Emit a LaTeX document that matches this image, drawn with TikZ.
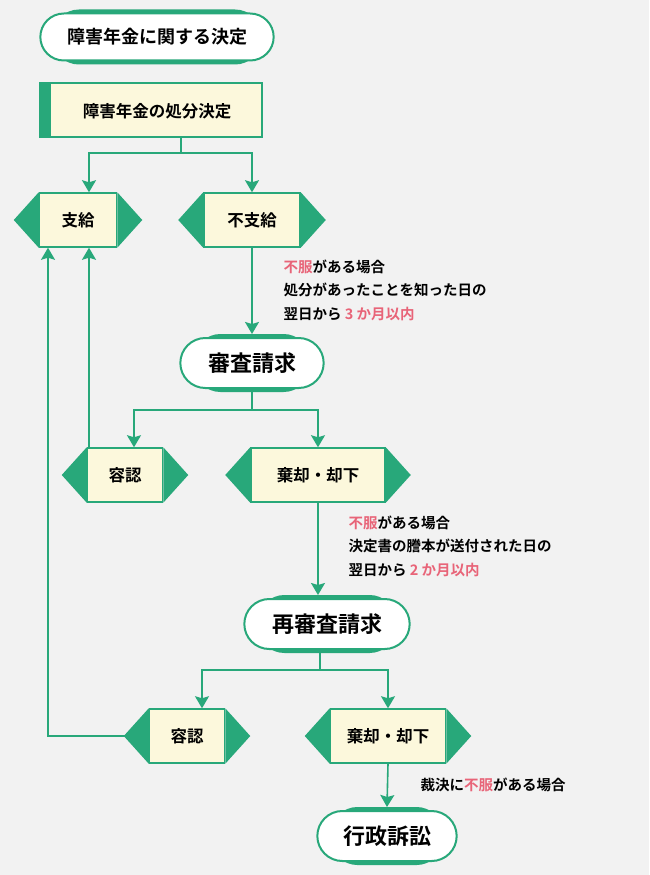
\documentclass[tikz,border=0pt]{standalone}
\usepackage{fontspec}
\setmainfont{Noto Sans CJK JP}[BoldFont={* Bold}]
\usetikzlibrary{arrows.meta,shapes.misc,backgrounds}
\definecolor{gr}{RGB}{40,168,122}
\definecolor{cream}{RGB}{252,248,220}
\definecolor{bg}{RGB}{242,242,242}
\definecolor{pk}{RGB}{232,100,120}
\tikzset{
  term/.style={rounded rectangle, fill=white, draw=gr, line width=2pt, font=\bfseries},
  box/.style={rectangle, fill=cream, draw=gr, line width=1.5pt, minimum height=54pt, font=\bfseries\fontsize{16.5}{16.5}\selectfont},
  conn/.style={draw=gr, line width=1.6pt},
  arr/.style={conn, -{Stealth[length=12pt,width=14pt,inset=2pt]}},
  note/.style={align=left, anchor=north west, font=\bfseries\fontsize{14.5}{23.5}\selectfont}
}
\newcommand{\pkword}[1]{\textcolor{pk}{#1}}
\begin{document}
\begin{tikzpicture}[x=1pt,y=-1pt]
  \begin{scope}[on background layer]
    \fill[bg] (0,0) rectangle (649,875);
  \end{scope}
  \useasboundingbox (0,0) rectangle (649,875);

  % terminals
  \node[term, minimum width=240pt, minimum height=47pt, font=\bfseries\fontsize{18}{18}\selectfont] (kettei) at (157,37) {障害年金に関する決定};
  \node[term, minimum width=150pt, minimum height=50pt, font=\bfseries\fontsize{22}{22}\selectfont] (shinsa) at (252,363) {審査請求};
  \node[term, minimum width=172pt, minimum height=50pt, font=\bfseries\fontsize{22}{22}\selectfont] (saishinsa) at (327,624) {再審査請求};
  \node[term, minimum width=146pt, minimum height=50pt, font=\bfseries\fontsize{22}{22}\selectfont] (sosho) at (387,836) {行政訴訟};

  % boxes
  \node[box, minimum width=222pt, text depth=0pt] (shobun) at (151,110) {\hspace*{12pt}障害年金の処分決定};
  \node[box, minimum width=77pt] (shikyu) at (78,220) {支給};
  \node[box, minimum width=96pt] (fushikyu) at (252,220) {不支給};
  \node[box, minimum width=75pt] (yonin) at (125,475) {容認};
  \node[box, minimum width=134pt] (kikyaku) at (318,475) {棄却・却下};
  \node[box, minimum width=75pt] (yonin2) at (187,736) {容認};
  \node[box, minimum width=115pt] (kikyaku2) at (388,736) {棄却・却下};

  \fill[gr] (shobun.north west) rectangle ([xshift=12pt]shobun.south west);
  \foreach \n in {shikyu,fushikyu,yonin,kikyaku,yonin2,kikyaku2} {
    \fill[gr] (\n.north west) -- ([xshift=-25pt]\n.west) -- (\n.south west) -- cycle;
    \fill[gr] (\n.north east) -- ([xshift=25pt]\n.east) -- (\n.south east) -- cycle;
  }
  \begin{scope}[on background layer]
    \foreach \n in {kettei,shinsa,saishinsa,sosho}
      \fill[gr, rounded corners=26pt] ([xshift=-11pt,yshift=3pt]\n.north west) rectangle ([xshift=11pt,yshift=-3pt]\n.south east);
  \end{scope}

  % connectors
  \coordinate (s1) at (181,153);
  \draw[conn] ([xshift=30pt]shobun.south) -- (s1);
  \draw[arr] (s1) -| ([xshift=11pt]shikyu.north);
  \draw[arr] (s1) -| (fushikyu.north);
  \draw[arr] (fushikyu.south) -- ([yshift=3pt]shinsa.north);

  \coordinate (s2) at (252,410);
  \draw[conn] (shinsa.south) -- (s2);
  \draw[arr] (s2) -| ([xshift=9pt]yonin.north);
  \draw[arr] (s2) -| (kikyaku.north);
  \draw[arr] (kikyaku.south) -- ([xshift=-9pt,yshift=3pt]saishinsa.north);

  \coordinate (s3) at (320,670);
  \draw[conn] ([xshift=-7pt]saishinsa.south) -- (s3);
  \draw[arr] (s3) -| ([xshift=15pt]yonin2.north);
  \draw[arr] (s3) -| (kikyaku2.north);
  \draw[arr] (kikyaku2.south) -- ([yshift=3pt]sosho.north);

  \draw[arr] ([xshift=-36pt]yonin.north) -- ([xshift=11pt]shikyu.south);
  \draw[arr] (yonin2.west) -| ([xshift=-30pt]shikyu.south);

  % notes
  \node[note] (n1) at (280,256) {\pkword{不服}がある場合\\処分があったことを知った日の\\翌日から \pkword{3 か月以内}};
  \node[note] (n2) at (345,512) {\pkword{不服}がある場合\\決定書の謄本が送付された日の\\翌日から \pkword{2 か月以内}};
  \node[note] (n3) at (417,774) {裁決に\pkword{不服}がある場合};
\end{tikzpicture}
\end{document}
